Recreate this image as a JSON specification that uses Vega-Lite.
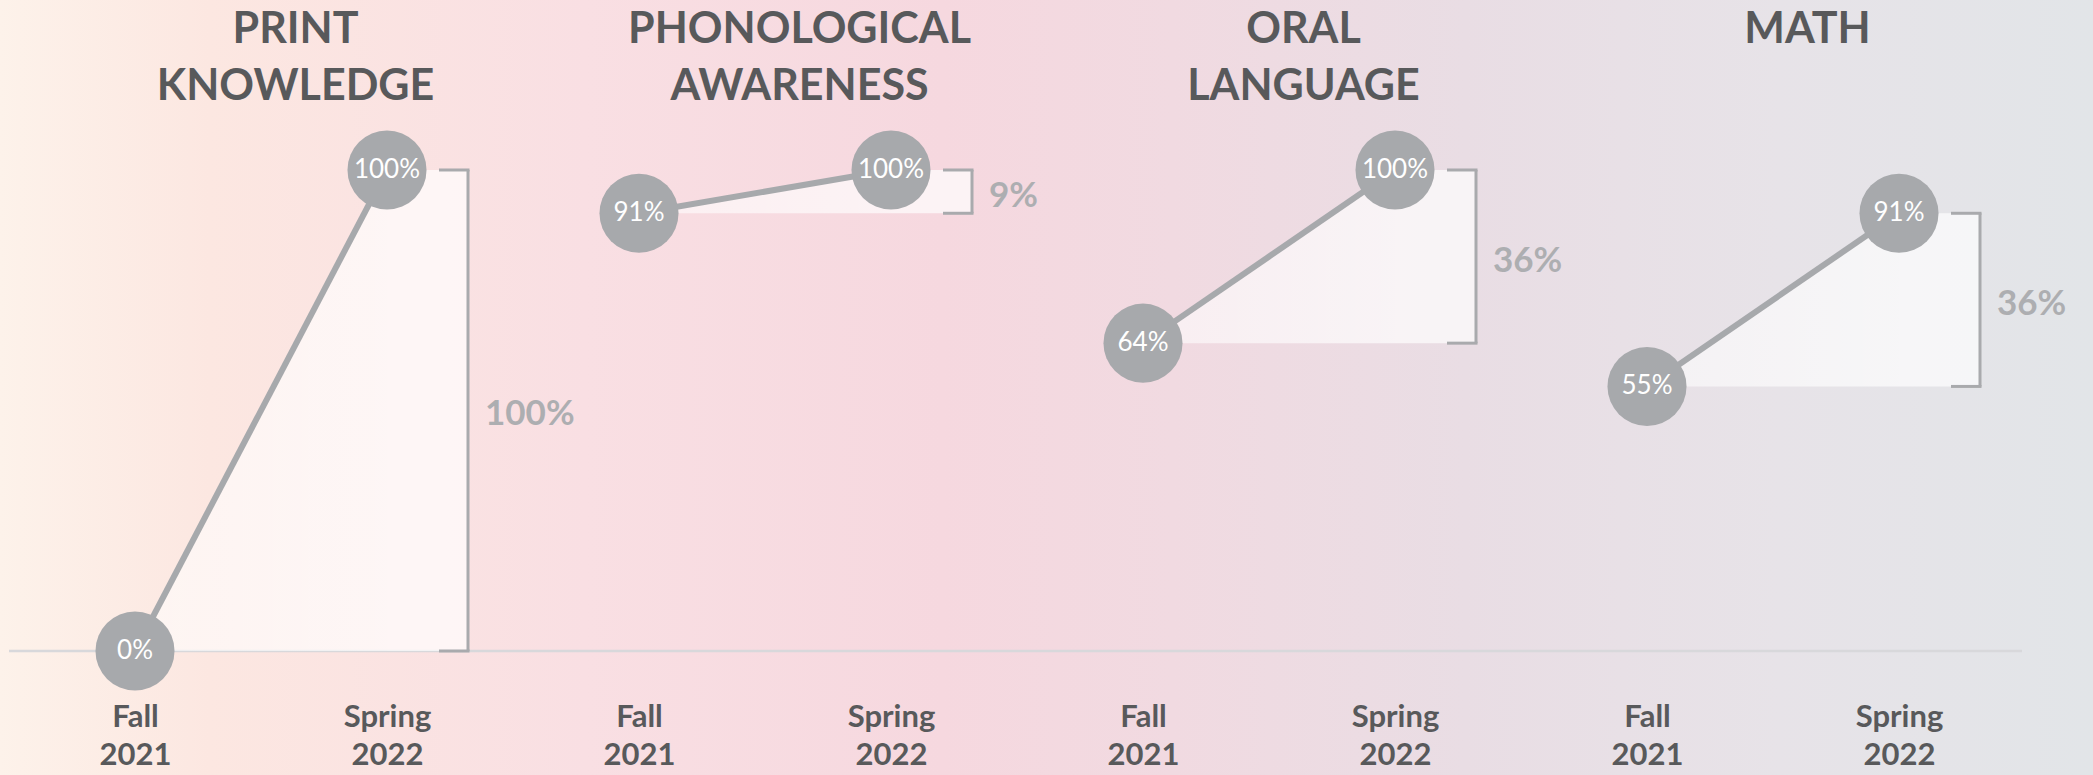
{
  "$schema": "https://vega.github.io/schema/vega-lite/v6.json",
  "width": 2093,
  "height": 775,
  "autosize": {"type": "none"},
  "padding": 0,
  "background": "#efe0e4",
  "config": {
    "view": {
      "stroke": null,
      "fill": {
        "gradient": "linear", "x1": 0, "y1": 0, "x2": 1, "y2": 0,
        "stops": [
          {"offset": 0, "color": "#fdf2ea"},
          {"offset": 0.1, "color": "#fce7e1"},
          {"offset": 0.28, "color": "#f9dfe3"},
          {"offset": 0.45, "color": "#f6d8df"},
          {"offset": 0.56, "color": "#f1dae1"},
          {"offset": 0.7, "color": "#e9dde4"},
          {"offset": 0.85, "color": "#e7e3e8"},
          {"offset": 1, "color": "#e2e5e8"}
        ]
      }
    },
    "axis": {"grid": false}
  },
  "datasets": {
    "scores": [
      {"measure": "PRINT KNOWLEDGE", "term": "Fall 2021", "slot": "PRINT KNOWLEDGE|Fall 2021", "score": 0, "base": 0},
      {"measure": "PRINT KNOWLEDGE", "term": "Spring 2022", "slot": "PRINT KNOWLEDGE|Spring 2022", "score": 1, "base": 0},
      {"measure": "PHONOLOGICAL AWARENESS", "term": "Fall 2021", "slot": "PHONOLOGICAL AWARENESS|Fall 2021", "score": 0.91, "base": 0.91},
      {"measure": "PHONOLOGICAL AWARENESS", "term": "Spring 2022", "slot": "PHONOLOGICAL AWARENESS|Spring 2022", "score": 1, "base": 0.91},
      {"measure": "ORAL LANGUAGE", "term": "Fall 2021", "slot": "ORAL LANGUAGE|Fall 2021", "score": 0.64, "base": 0.64},
      {"measure": "ORAL LANGUAGE", "term": "Spring 2022", "slot": "ORAL LANGUAGE|Spring 2022", "score": 1, "base": 0.64},
      {"measure": "MATH", "term": "Fall 2021", "slot": "MATH|Fall 2021", "score": 0.55, "base": 0.55},
      {"measure": "MATH", "term": "Spring 2022", "slot": "MATH|Spring 2022", "score": 0.91, "base": 0.55}
    ],
    "gains": [
      {"measure": "PRINT KNOWLEDGE", "slot": "PRINT KNOWLEDGE|Spring 2022", "fall": 0, "spring": 1, "gain": 1},
      {"measure": "PHONOLOGICAL AWARENESS", "slot": "PHONOLOGICAL AWARENESS|Spring 2022", "fall": 0.91, "spring": 1, "gain": 0.09},
      {"measure": "ORAL LANGUAGE", "slot": "ORAL LANGUAGE|Spring 2022", "fall": 0.64, "spring": 1, "gain": 0.36},
      {"measure": "MATH", "slot": "MATH|Spring 2022", "fall": 0.55, "spring": 0.91, "gain": 0.36}
    ],
    "zeroline": [
      {"first": "PRINT KNOWLEDGE|Fall 2021", "last": "MATH|Spring 2022", "level": 0}
    ]
  },
  "resolve": {"axis": {"x": "independent"}},
  "layer": [
    {
      "layer": [
        {
          "data": {"name": "zeroline"},
          "mark": {"type": "rule", "color": "#d8d8db", "strokeWidth": 2.5, "xOffset": -126, "x2Offset": 123},
          "encoding": {
            "x": {"field": "first", "type": "nominal", "axis": null,
                  "scale": {"type": "point", "padding": 0, "range": [135, 1899],
                            "domain": ["PRINT KNOWLEDGE|Fall 2021", "PRINT KNOWLEDGE|Spring 2022", "PHONOLOGICAL AWARENESS|Fall 2021", "PHONOLOGICAL AWARENESS|Spring 2022", "ORAL LANGUAGE|Fall 2021", "ORAL LANGUAGE|Spring 2022", "MATH|Fall 2021", "MATH|Spring 2022"]}},
            "x2": {"field": "last"},
            "y": {"field": "level", "type": "quantitative", "axis": null,
                  "scale": {"domain": [-0.2578, 1.3534], "nice": false, "zero": false}}
          }
        },
        {
          "data": {"name": "scores"},
          "mark": {
            "type": "area",
            "fill": {
              "gradient": "linear", "x1": 0, "y1": 0, "x2": 1, "y2": 0,
              "stops": [
                {"offset": 0, "color": "rgba(255,255,255,0.55)"},
                {"offset": 1, "color": "rgba(255,255,255,0.68)"}
              ]
            }
          },
          "encoding": {
            "x": {"field": "slot", "type": "nominal", "axis": null,
                  "scale": {"type": "point", "padding": 0, "range": [135, 1899],
                            "domain": ["PRINT KNOWLEDGE|Fall 2021", "PRINT KNOWLEDGE|Spring 2022", "PHONOLOGICAL AWARENESS|Fall 2021", "PHONOLOGICAL AWARENESS|Spring 2022", "ORAL LANGUAGE|Fall 2021", "ORAL LANGUAGE|Spring 2022", "MATH|Fall 2021", "MATH|Spring 2022"]}},
            "y": {"field": "score", "type": "quantitative", "stack": null, "axis": null,
                  "scale": {"domain": [-0.2578, 1.3534], "nice": false, "zero": false}},
            "y2": {"field": "base"},
            "detail": {"field": "measure"}
          }
        },
        {
          "data": {"name": "gains"},
          "mark": {"type": "rect", "fill": "#ffffff", "fillOpacity": 0.68, "x2Offset": 80},
          "encoding": {
            "x": {"field": "slot", "type": "nominal", "axis": null,
                  "scale": {"type": "point", "padding": 0, "range": [135, 1899],
                            "domain": ["PRINT KNOWLEDGE|Fall 2021", "PRINT KNOWLEDGE|Spring 2022", "PHONOLOGICAL AWARENESS|Fall 2021", "PHONOLOGICAL AWARENESS|Spring 2022", "ORAL LANGUAGE|Fall 2021", "ORAL LANGUAGE|Spring 2022", "MATH|Fall 2021", "MATH|Spring 2022"]}},
            "x2": {"field": "slot"},
            "y": {"field": "spring", "type": "quantitative", "axis": null,
                  "scale": {"domain": [-0.2578, 1.3534], "nice": false, "zero": false}},
            "y2": {"field": "fall"}
          }
        },
        {
          "data": {"name": "gains"},
          "mark": {"type": "rule", "color": "#a9aaad", "strokeWidth": 3, "xOffset": 81},
          "encoding": {
            "x": {"field": "slot", "type": "nominal", "axis": null,
                  "scale": {"type": "point", "padding": 0, "range": [135, 1899],
                            "domain": ["PRINT KNOWLEDGE|Fall 2021", "PRINT KNOWLEDGE|Spring 2022", "PHONOLOGICAL AWARENESS|Fall 2021", "PHONOLOGICAL AWARENESS|Spring 2022", "ORAL LANGUAGE|Fall 2021", "ORAL LANGUAGE|Spring 2022", "MATH|Fall 2021", "MATH|Spring 2022"]}},
            "y": {"field": "spring", "type": "quantitative", "axis": null,
                  "scale": {"domain": [-0.2578, 1.3534], "nice": false, "zero": false}},
            "y2": {"field": "fall"}
          }
        },
        {
          "data": {"name": "gains"},
          "transform": [{"fold": ["fall", "spring"], "as": ["end", "level"]}],
          "mark": {"type": "rule", "color": "#a9aaad", "strokeWidth": 3, "xOffset": 52, "x2Offset": 82.5},
          "encoding": {
            "x": {"field": "slot", "type": "nominal", "axis": null,
                  "scale": {"type": "point", "padding": 0, "range": [135, 1899],
                            "domain": ["PRINT KNOWLEDGE|Fall 2021", "PRINT KNOWLEDGE|Spring 2022", "PHONOLOGICAL AWARENESS|Fall 2021", "PHONOLOGICAL AWARENESS|Spring 2022", "ORAL LANGUAGE|Fall 2021", "ORAL LANGUAGE|Spring 2022", "MATH|Fall 2021", "MATH|Spring 2022"]}},
            "x2": {"field": "slot"},
            "y": {"field": "level", "type": "quantitative", "axis": null,
                  "scale": {"domain": [-0.2578, 1.3534], "nice": false, "zero": false}}
          }
        }
      ]
    },
    {
      "data": {"name": "scores"},
      "mark": {"type": "line", "color": "#a7a9ac", "strokeWidth": 6},
      "encoding": {
        "x": {"field": "slot", "type": "nominal",
              "scale": {"type": "point", "padding": 0, "range": [135, 1899],
                        "domain": ["PRINT KNOWLEDGE|Fall 2021", "PRINT KNOWLEDGE|Spring 2022", "PHONOLOGICAL AWARENESS|Fall 2021", "PHONOLOGICAL AWARENESS|Spring 2022", "ORAL LANGUAGE|Fall 2021", "ORAL LANGUAGE|Spring 2022", "MATH|Fall 2021", "MATH|Spring 2022"]},
              "axis": {
                "orient": "top", "offset": -42, "title": null,
                "domain": false, "ticks": false, "tickSize": 0, "labelPadding": 0,
                "labelAngle": 0, "labelAlign": "center", "labelBaseline": "alphabetic",
                "labelOffset": 160, "labelLineHeight": 57, "labelLimit": 1000,
                "labelOverlap": false, "labelBound": false,
                "labelFont": "Lato", "labelFontWeight": "bold", "labelFontSize": 43, "labelColor": "#58595b",
                "labelExpr": "indexof(datum.value, 'Fall') >= 0 ? split(split(datum.value, '|')[0], ' ') : ''"
              }},
        "y": {"field": "score", "type": "quantitative", "axis": null,
              "scale": {"domain": [-0.2578, 1.3534], "nice": false, "zero": false}},
        "detail": {"field": "measure"}
      }
    },
    {
      "layer": [
        {
          "data": {"name": "scores"},
          "mark": {"type": "point", "filled": true, "shape": "circle", "size": 6250, "color": "#a7a9ac", "opacity": 1},
          "encoding": {
            "x": {"field": "slot", "type": "nominal",
                  "scale": {"type": "point", "padding": 0, "range": [135, 1899],
                            "domain": ["PRINT KNOWLEDGE|Fall 2021", "PRINT KNOWLEDGE|Spring 2022", "PHONOLOGICAL AWARENESS|Fall 2021", "PHONOLOGICAL AWARENESS|Spring 2022", "ORAL LANGUAGE|Fall 2021", "ORAL LANGUAGE|Spring 2022", "MATH|Fall 2021", "MATH|Spring 2022"]},
                  "axis": {
                    "orient": "bottom", "offset": -49, "title": null,
                    "domain": false, "ticks": false, "tickSize": 0, "labelPadding": 0,
                    "labelAngle": 0, "labelAlign": "center", "labelBaseline": "alphabetic",
                    "labelLineHeight": 38, "labelLimit": 1000,
                    "labelOverlap": false, "labelBound": false,
                    "labelFont": "Lato", "labelFontWeight": "bold", "labelFontSize": 31, "labelColor": "#58595b",
                    "labelExpr": "split(split(datum.value, '|')[1], ' ')"
                  }},
            "y": {"field": "score", "type": "quantitative", "axis": null,
                  "scale": {"domain": [-0.2578, 1.3534], "nice": false, "zero": false}}
          }
        },
        {
          "data": {"name": "scores"},
          "mark": {"type": "text", "color": "#ffffff", "font": "Lato", "fontWeight": 400, "fontSize": 26, "baseline": "middle", "align": "center"},
          "encoding": {
            "x": {"field": "slot", "type": "nominal",
                  "scale": {"type": "point", "padding": 0, "range": [135, 1899],
                            "domain": ["PRINT KNOWLEDGE|Fall 2021", "PRINT KNOWLEDGE|Spring 2022", "PHONOLOGICAL AWARENESS|Fall 2021", "PHONOLOGICAL AWARENESS|Spring 2022", "ORAL LANGUAGE|Fall 2021", "ORAL LANGUAGE|Spring 2022", "MATH|Fall 2021", "MATH|Spring 2022"]}},
            "y": {"field": "score", "type": "quantitative", "axis": null,
                  "scale": {"domain": [-0.2578, 1.3534], "nice": false, "zero": false}},
            "text": {"field": "score", "type": "quantitative", "format": ".0%"}
          }
        },
        {
          "data": {"name": "gains"},
          "transform": [
            {"fold": ["fall", "spring"], "as": ["end", "level"]},
            {"aggregate": [{"op": "mean", "field": "level", "as": "mid"}], "groupby": ["measure", "slot", "gain"]}
          ],
          "mark": {"type": "text", "color": "#adaeb1", "font": "Lato", "fontWeight": "bold", "fontSize": 35, "baseline": "middle", "align": "left", "dy": 4, "xOffset": 98},
          "encoding": {
            "x": {"field": "slot", "type": "nominal",
                  "scale": {"type": "point", "padding": 0, "range": [135, 1899],
                            "domain": ["PRINT KNOWLEDGE|Fall 2021", "PRINT KNOWLEDGE|Spring 2022", "PHONOLOGICAL AWARENESS|Fall 2021", "PHONOLOGICAL AWARENESS|Spring 2022", "ORAL LANGUAGE|Fall 2021", "ORAL LANGUAGE|Spring 2022", "MATH|Fall 2021", "MATH|Spring 2022"]}},
            "y": {"field": "mid", "type": "quantitative", "axis": null,
                  "scale": {"domain": [-0.2578, 1.3534], "nice": false, "zero": false}},
            "text": {"field": "gain", "type": "quantitative", "format": ".0%"}
          }
        }
      ]
    }
  ]
}
